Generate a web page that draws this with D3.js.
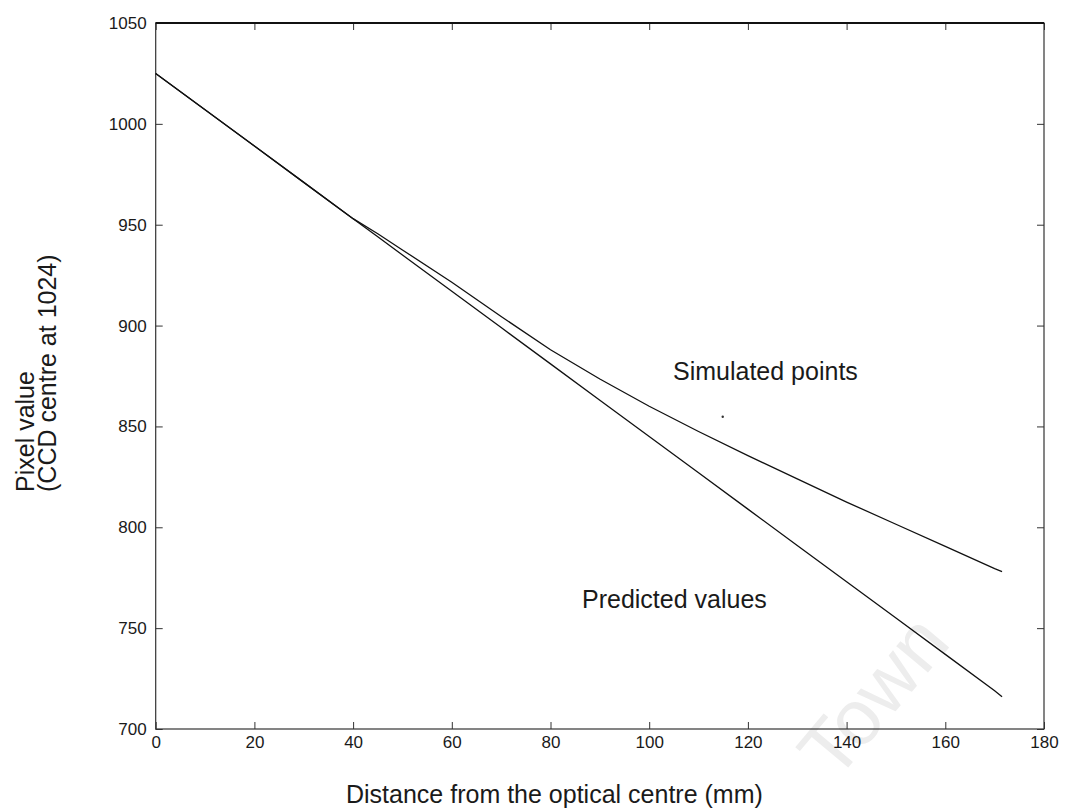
<!DOCTYPE html>
<html>
<head>
<meta charset="utf-8">
<script src="https://cdn.jsdelivr.net/npm/d3@7"></script>
<style>
  body { margin: 0; background: #fff; }
  text { font-family: "Liberation Sans", Arial, sans-serif; fill: #1a1a1a; }
</style>
</head>
<body>
<script>
const width = 1065;
const height = 810;

// Distance from the optical centre (mm)
const distance = [0, 10, 20, 30, 40, 45, 50, 60, 70, 80, 90, 100, 110, 120, 130, 140, 150, 160, 170, 171.5];
// Pixel values
const predicted = [1025, 1007, 989, 971, 953, 944, 935, 917, 899, 881, 863, 845, 827, 809, 791, 773, 755, 737, 719, 716];
const simulated = [1025, 1007, 989, 971, 953, 945.5, 937.5, 921.5, 904.5, 888, 873.5, 860, 847.5, 835.5, 824, 812.5, 801.5, 790.5, 779.5, 778];
// stray point near the label
const strayPoint = [114.9, 854.8];

const xTicks = [0, 20, 40, 60, 80, 100, 120, 140, 160, 180];
const yTicks = [700, 750, 800, 850, 900, 950, 1000, 1050];

const margin = { left: 155.7, top: 23, right: 1044, bottom: 729 };

const svg = d3.select("body").append("svg").attr("width", width).attr("height", height);
svg.append("rect").attr("width", width).attr("height", height).attr("fill", "#fff");

const x = d3.scaleLinear().domain([0, 180]).range([margin.left, margin.right]);
const y = d3.scaleLinear().domain([700, 1050]).range([margin.bottom, margin.top]);

// faint watermark from the scan
svg.append("text")
  .attr("transform", "translate(878,700) rotate(-50)")
  .attr("text-anchor", "middle")
  .attr("dominant-baseline", "middle")
  .style("font-size", "78px")
  .style("fill", "#ededed")
  .text("Town");

// axes, ticks pointing inward
svg.append("g")
  .attr("transform", `translate(0,${margin.bottom})`)
  .call(d3.axisBottom(x).tickValues(xTicks).tickFormat(d3.format("d")).tickSizeInner(-7).tickSizeOuter(0).tickPadding(7))
  .call(g => g.select(".domain").remove())
  .call(g => g.selectAll("text").style("font-size", "17px"));

svg.append("g")
  .attr("transform", `translate(0,${margin.top})`)
  .call(d3.axisTop(x).tickValues(xTicks).tickSizeInner(-7).tickSizeOuter(0).tickFormat(""))
  .call(g => g.select(".domain").remove());

svg.append("g")
  .attr("transform", `translate(${margin.left},0)`)
  .call(d3.axisLeft(y).tickValues(yTicks).tickFormat(d3.format("d")).tickSizeInner(-7).tickSizeOuter(0).tickPadding(9))
  .call(g => g.select(".domain").remove())
  .call(g => g.selectAll("text").style("font-size", "17px"));

svg.append("g")
  .attr("transform", `translate(${margin.right},0)`)
  .call(d3.axisRight(y).tickValues(yTicks).tickSizeInner(-7).tickSizeOuter(0).tickFormat(""))
  .call(g => g.select(".domain").remove());

svg.selectAll(".tick line").attr("stroke", "#333");

// frame
svg.append("rect")
  .attr("x", margin.left)
  .attr("y", margin.top)
  .attr("width", margin.right - margin.left)
  .attr("height", margin.bottom - margin.top)
  .attr("fill", "none")
  .attr("stroke", "#333")
  .attr("stroke-width", 1.2);
svg.append("line")
  .attr("x1", margin.left).attr("x2", margin.right)
  .attr("y1", margin.top).attr("y2", margin.top)
  .attr("stroke", "#111").attr("stroke-width", 2);

// curves
const line = d3.line()
  .x((d) => x(d[0]))
  .y((d) => y(d[1]));

[predicted, simulated].forEach((series) => {
  svg.append("path")
    .datum(distance.map((d, i) => [d, series[i]]))
    .attr("d", line)
    .attr("fill", "none")
    .attr("stroke", "#111")
    .attr("stroke-width", 1.3);
});

svg.append("circle")
  .attr("cx", x(strayPoint[0]))
  .attr("cy", y(strayPoint[1]))
  .attr("r", 1.2)
  .attr("fill", "#333");

// annotations
svg.append("text")
  .attr("x", 673).attr("y", 380)
  .style("font-size", "25px")
  .text("Simulated points");

svg.append("text")
  .attr("x", 582).attr("y", 608)
  .style("font-size", "25px")
  .text("Predicted values");

// axis titles
svg.append("text")
  .attr("x", 346).attr("y", 803)
  .style("font-size", "25px")
  .text("Distance from the optical centre (mm)");

svg.append("text")
  .attr("transform", "translate(34,492) rotate(-90)")
  .style("font-size", "25px")
  .text("Pixel value");

svg.append("text")
  .attr("transform", "translate(56,492) rotate(-90)")
  .style("font-size", "25px")
  .text("(CCD centre at 1024)");
</script>
</body>
</html>
